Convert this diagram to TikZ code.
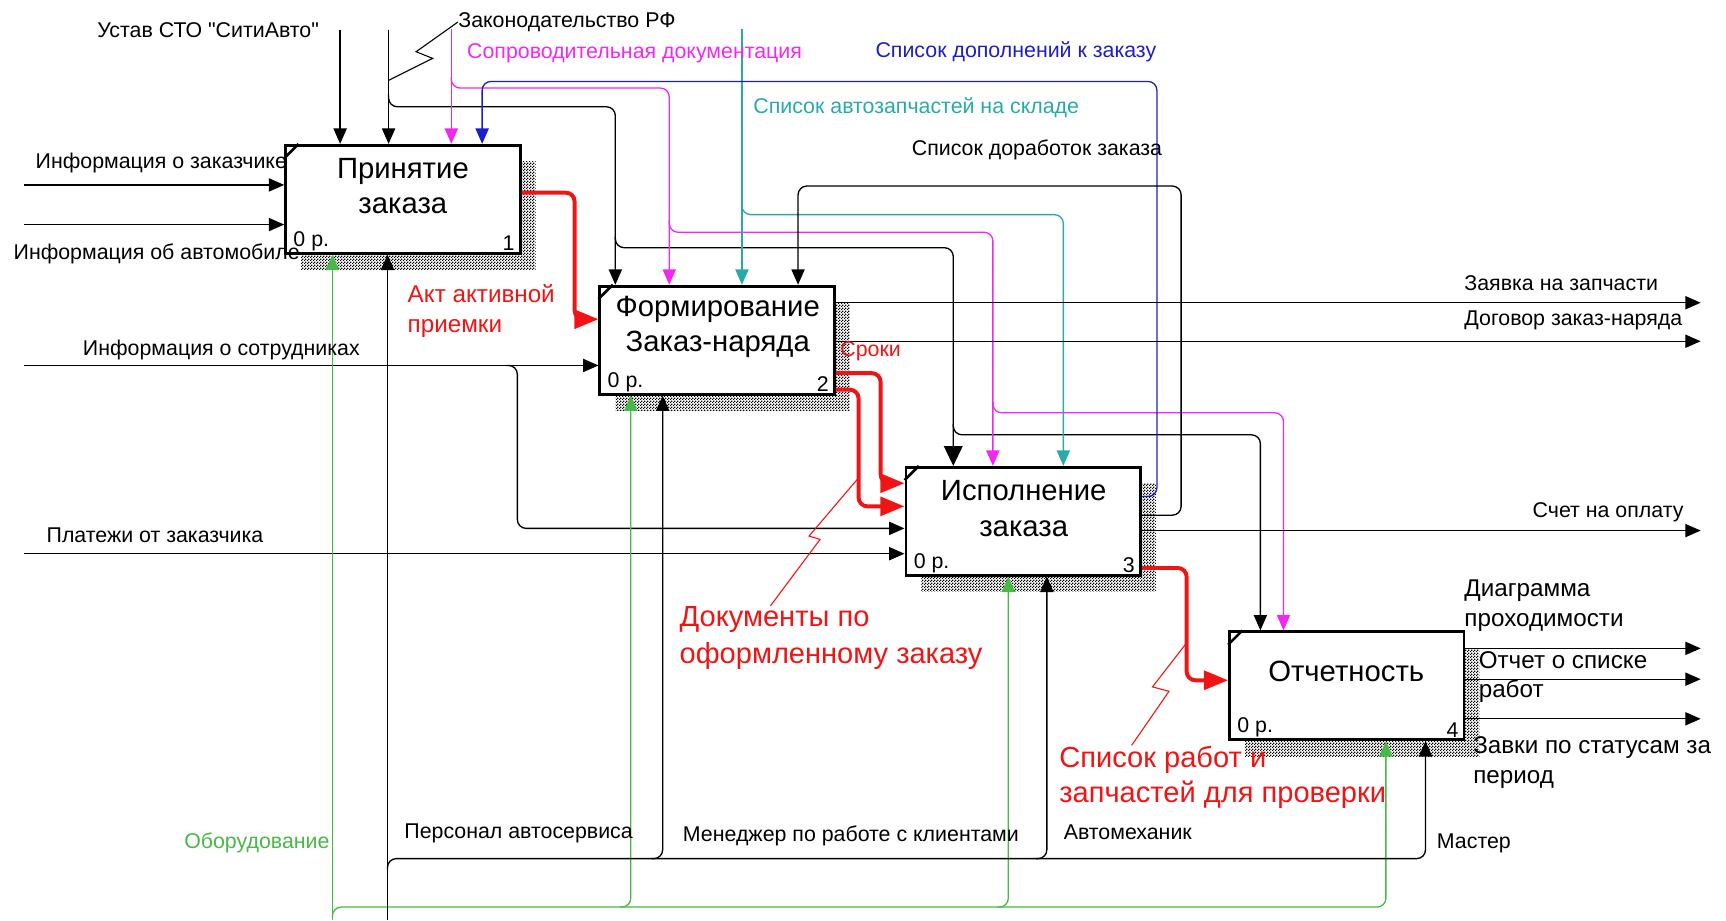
\documentclass[tikz,border=0pt]{standalone}
\usepackage{fontspec}
\setmainfont{Liberation Sans}[Ligatures=TeXOff]
\usetikzlibrary{arrows.meta,patterns}

\pgfdeclarepatternformonly{shadowdots}{\pgfqpoint{0pt}{0pt}}{\pgfqpoint{1.4pt}{1.4pt}}{\pgfqpoint{1.4pt}{1.4pt}}{%
  \pgfpathrectangle{\pgfqpoint{0pt}{0pt}}{\pgfqpoint{0.7pt}{0.7pt}}%
  \pgfpathrectangle{\pgfqpoint{0.7pt}{0.7pt}}{\pgfqpoint{0.7pt}{0.7pt}}%
  \pgfusepath{fill}}

\definecolor{idefred}{RGB}{240,20,20}
\definecolor{idefmag}{RGB}{240,40,240}
\definecolor{idefblue}{RGB}{30,30,200}
\definecolor{idefteal}{RGB}{40,170,170}
\definecolor{idefgreen}{RGB}{70,185,70}

\begin{document}
\begin{tikzpicture}[x=0.5pt, y=-0.5pt,
    font=\fontsize{9.7}{11.5}\selectfont,
    box/.style={draw, line width=1.3pt, fill=white, minimum width=106.5pt, minimum height=49pt, inner sep=0pt,
      preaction={pattern=shadowdots, pattern color=black, transform canvas={shift={(7pt,-7.5pt)}}}},
    title/.style={font=\fontsize{13.3}{16}\selectfont, align=center, inner sep=0pt},
    num/.style={inner sep=0pt},
    lbl/.style={inner sep=0pt, anchor=west, align=left},
    midlbl/.style={lbl, font=\fontsize{11}{13.5}\selectfont},
    biglbl/.style={lbl, text=idefred, font=\fontsize{13.2}{17}\selectfont},
    arr/.style={line width=0.6pt, rounded corners=4pt, -{Triangle[length=7pt,width=6pt]}},
    bigarr/.style={arr, -{Triangle[length=9pt,width=8.5pt]}},
    redarr/.style={line width=1.8pt, idefred, rounded corners=4pt, -{Triangle[length=11pt,width=8.5pt]}},
    squig/.style={line width=0.5pt},
  ]
  \useasboundingbox (0,0) rectangle (1568,836);

  % blocks
  \node[box] (b1) at (366,181) {};
  \node[box] (b2) at (651.5,309) {};
  \node[box] (b3) at (929.5,473.5) {};
  \node[box] (b4) at (1223.5,623) {};
  \node[title] (b1t) at (366,169) {Принятие\\заказа};
  \node[title] (b2t) at (652,297) {Формирование\\Заказ-наряда};
  \node[title] (b3t) at (930,462) {Исполнение\\заказа};
  \node[title] (b4t) at (1223,610) {Отчетность};
  \foreach \bx/\n in {b1/1,b2/2,b3/3,b4/4} {
    \draw[line width=1.2pt] (\bx.north west) ++(0,13) -- ++(13,-13);
    \node[num, anchor=south west] (\bx z) at ([shift={(4pt,1.5pt)}]\bx.south west) {0 р.};
    \node[num, anchor=south east] (\bx n) at ([shift={(-3pt,1.5pt)}]\bx.south east) {\n};
  }

  % free ends
  \coordinate (ust) at (309,27);
  \coordinate (zak) at (353,27);
  \coordinate (sop) at (410,26);
  \coordinate (avt) at (674,26);
  \coordinate (iz) at (22,168);
  \coordinate (ia) at (22,204);
  \coordinate (is) at (22,332);
  \coordinate (pl) at (22,503);
  \coordinate (obo) at (302,836);
  \coordinate (pers) at (352,836);
  \coordinate (zay) at (1545,275);
  \coordinate (dog) at (1545,310);
  \coordinate (sch) at (1545,482);
  \coordinate (dia) at (1545,589);
  \coordinate (otc) at (1545,617);
  \coordinate (zav) at (1545,653);

  % controls
  \draw[arr] (ust) -- (ust |- b1.north);
  \draw[arr] (zak) -- (zak |- b1.north);
  \draw[arr] (353,85) -- (353,97) -- (559,97) -- (b2.north -| 559,0);
  \draw[bigarr] (559,215) -- (559,225) -- (866,225) -- (b3.north -| 866,0);
  \draw[arr] (866,385) -- (866,395) -- (1145,395) -- (b4.north -| 1145,0);
  \draw[arr, idefmag] (sop) -- (sop |- b1.north);
  \draw[arr, idefmag] (410,70) -- (410,80) -- (608,80) -- (b2.north -| 608,0);
  \draw[arr, idefmag] (608,200) -- (608,211) -- (902,211) -- (b3.north -| 902,0);
  \draw[arr, idefmag] (902,365) -- (902,375) -- (1166,375) -- (b4.north -| 1166,0);
  \draw[arr, idefteal] (avt) -- (avt |- b2.north);
  \draw[arr, idefteal] (674,185) -- (674,195) -- (966,195) -- (b3.north -| 966,0);
  \draw[arr, idefblue] (b3.east |- 0,451) -- (1051,451) -- (1051,74) -- (438,74) -- (b1.north -| 438,0);
  \draw[arr] (b3.east |- 0,468) -- (1073,468) -- (1073,169) -- (725,169) -- (b2.north -| 725,0);

  % inputs
  \draw[arr] (iz) -- (iz -| b1.west);
  \draw[arr] (ia) -- (ia -| b1.west);
  \draw[arr] (is) -- (is -| b2.west);
  \draw[arr] (460,332) -- (470,332) -- (470,480) -- (b3.west |- 0,480);
  \draw[arr] (pl) -- (pl -| b3.west);
  \draw[redarr] (b1.east |- 0,175) -- (522,175) -- (522,290) -- (b2.west |- 0,290);
  \draw[redarr] (b2.east |- 0,339) -- (800,339) -- (800,439) -- (b3.west |- 0,439);
  \draw[redarr] (b2.east |- 0,354) -- (780,354) -- (780,460) -- (b3.west |- 0,460);
  \draw[redarr] (b3.east |- 0,516) -- (1078,516) -- (1078,618) -- (b4.west |- 0,618);

  % outputs
  \draw[arr] (b2.east |- zay) -- (zay);
  \draw[arr] (b2.east |- dog) -- (dog);
  \draw[arr] (b3.east |- sch) -- (sch);
  \draw[arr] (b4.east |- dia) -- (dia);
  \draw[arr] (b4.east |- otc) -- (otc);
  \draw[arr] (b4.east |- zav) -- (zav);

  % mechanisms
  \draw[arr, idefgreen] (obo) -- (obo |- b1.south);
  \draw[arr, idefgreen] (302,834) -- (302,824) -- (1259,824) -- (b4.south -| 1259,0);
  \draw[arr, idefgreen] (563,824) -- (573,824) -- (b2.south -| 573,0);
  \draw[arr, idefgreen] (906,824) -- (916,824) -- (b3.south -| 916,0);
  \draw[arr] (pers) -- (pers |- b1.south);
  \draw[arr] (352,790) -- (352,780) -- (1295,780) -- (b4.south -| 1295,0);
  \draw[arr] (592,780) -- (602,780) -- (b2.south -| 602,0);
  \draw[arr] (941,780) -- (951,780) -- (b3.south -| 951,0);

  % labels
  \node[lbl] (ustl) at (88,27) {Устав СТО "СитиАвто"};
  \node[lbl] (zakl) at (416,20) {Законодательство РФ};
  \node[lbl, text=idefmag] (sopl) at (424,48) {Сопроводительная документация};
  \node[lbl, text=idefblue] (dopl) at (795,47) {Список дополнений к заказу};
  \node[lbl, text=idefteal] (avtl) at (684,98) {Список автозапчастей на складе};
  \node[lbl] (dorl) at (828,136) {Список доработок заказа};
  \node[lbl] (izl) at (32,148) {Информация о заказчике};
  \node[lbl] (ial) at (12,231) {Информация об автомобиле};
  \node[lbl] (isl) at (75,318) {Информация о сотрудниках};
  \node[lbl] (pll) at (42,486) {Платежи от заказчика};
  \node[midlbl, text=idefred] (aktl) at (370,282.5) {Акт активной\\приемки};
  \node[lbl, text=idefred] (srol) at (763,319) {Сроки};
  \node[biglbl] (docl) at (617,579.5) {Документы по\\оформленному заказу};
  \node[biglbl, font=\fontsize{13.2}{16}\selectfont] (sprl) at (962,706) {Список работ и\\запчастей для проверки};
  \node[lbl, text=idefgreen] (obol) at (167,766) {Оборудование};
  \node[lbl] (persl) at (367,757) {Персонал автосервиса};
  \node[lbl] (menl) at (620,759) {Менеджер по работе с клиентами};
  \node[lbl] (avml) at (966,756) {Автомеханик};
  \node[lbl] (masl) at (1305,766) {Мастер};
  \node[lbl] (zayl) at (1330,257) {Заявка на запчасти};
  \node[lbl] (dogl) at (1330,291) {Договор заказ-наряда};
  \node[lbl] (schl) at (1392,465) {Счет на оплату};
  \node[midlbl] (dial) at (1330,550.5) {Диаграмма\\проходимости};
  \node[midlbl] (otcl) at (1343,615) {Отчет о списке\\работ};
  \node[midlbl] (zavl) at (1338,692.5) {Завки по статусам за\\период};

  % squiggles
  \draw[squig] (zakl.west) -- (378,47) -- (393,53) -- (zak |- 0,73);
  \draw[squig, idefred] (780,434) -- (735,487) -- (745,490) -- (docl.north -| 700,0);
  \draw[squig, idefred] (1078,584) -- (1047,624) -- (1062,628) -- (sprl.north -| 1028,0);
\end{tikzpicture}
\end{document}
